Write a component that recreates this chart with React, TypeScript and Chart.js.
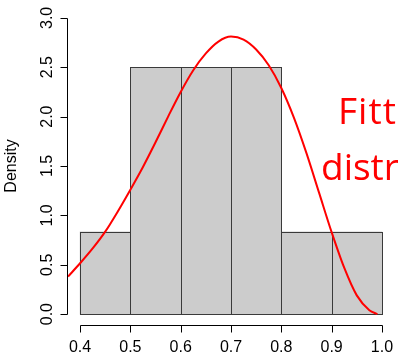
import React, { useEffect, useRef } from "react";
import { Chart, registerables } from "chart.js";

Chart.register(...registerables);

// Histogram bins (left edges / right edges) and densities
const binStarts = [0.4, 0.5, 0.6, 0.7, 0.8, 0.9];
const binEnds = [0.5, 0.6, 0.7, 0.8, 0.9, 1.0];
const densities = [0.833, 2.5, 2.5, 2.5, 0.833, 0.833];

// Fitted density curve
const curveX = [0.376, 0.4, 0.425, 0.45, 0.475, 0.5, 0.525, 0.55, 0.575, 0.6, 0.625, 0.65, 0.675, 0.7, 0.725, 0.75, 0.775, 0.8, 0.825, 0.85, 0.875, 0.9, 0.925, 0.95, 0.975, 0.991];
const curveY = [0.38, 0.515, 0.665, 0.835, 1.04, 1.26, 1.49, 1.74, 2.0, 2.25, 2.47, 2.64, 2.76, 2.81, 2.78, 2.68, 2.52, 2.29, 1.99, 1.63, 1.23, 0.83, 0.47, 0.19, 0.04, 0.0];

// Axis ticks
const xTicks = [0.4, 0.5, 0.6, 0.7, 0.8, 0.9, 1.0];
const xTickLabels = ["0.4", "0.5", "0.6", "0.7", "0.8", "0.9", "1.0"];
const yTicks = [0, 0.5, 1.0, 1.5, 2.0, 2.5, 3.0];
const yTickLabels = ["0.0", "0.5", "1.0", "1.5", "2.0", "2.5", "3.0"];
const yTitle = "Density";
const annotationLines = ["Fitted", "distribution"];

export default function App() {
  const ref = useRef<HTMLCanvasElement | null>(null);

  useEffect(() => {
    const canvas = ref.current;
    if (!canvas) return;

    const BAR_INDEX = 1;

    const outlinePlugin = {
      id: "barOutline",
      afterDatasetDraw(chart: any, args: any) {
        if (args.index !== BAR_INDEX) return;
        const ctx = chart.ctx as CanvasRenderingContext2D;
        const meta = chart.getDatasetMeta(BAR_INDEX);
        ctx.save();
        ctx.strokeStyle = "#3a3a3a";
        ctx.lineWidth = 1;
        meta.data.forEach((el: any) => {
          const p = el.getProps(["x", "y", "base", "width"], true);
          const l = Math.round(p.x - p.width / 2) + 0.5;
          const r = Math.round(p.x + p.width / 2) + 0.5;
          const t = Math.round(p.y) + 0.5;
          const b = Math.round(p.base) + 0.5;
          ctx.strokeRect(l, t, r - l, b - t);
        });
        ctx.restore();
      },
    };

    const rAxisPlugin = {
      id: "rAxis",
      afterDraw(chart: any) {
        const ctx = chart.ctx as CanvasRenderingContext2D;
        const xs = chart.scales.x;
        const ys = chart.scales.y;
        const area = chart.chartArea;
        ctx.save();
        ctx.strokeStyle = "#000";
        ctx.fillStyle = "#000";
        ctx.lineWidth = 1;
        // y axis
        const ax = Math.round(area.left) - 0.5;
        ctx.beginPath();
        ctx.moveTo(ax, Math.round(ys.getPixelForValue(yTicks[0])) + 0.5);
        ctx.lineTo(ax, Math.round(ys.getPixelForValue(yTicks[yTicks.length - 1])) + 0.5);
        yTicks.forEach((t) => {
          const py = Math.round(ys.getPixelForValue(t)) + 0.5;
          ctx.moveTo(ax, py);
          ctx.lineTo(ax - 7, py);
        });
        ctx.stroke();
        // x axis
        const ay = Math.round(area.bottom) - 0.5;
        ctx.beginPath();
        ctx.moveTo(Math.round(xs.getPixelForValue(xTicks[0])) + 0.5, ay);
        ctx.lineTo(Math.round(xs.getPixelForValue(xTicks[xTicks.length - 1])) + 0.5, ay);
        xTicks.forEach((t) => {
          const px = Math.round(xs.getPixelForValue(t)) + 0.5;
          ctx.moveTo(px, ay);
          ctx.lineTo(px, ay + 7);
        });
        ctx.stroke();

        ctx.font = '16px "Liberation Sans", Arial, sans-serif';
        ctx.textAlign = "center";
        ctx.textBaseline = "alphabetic";
        xTicks.forEach((t, i) => {
          ctx.fillText(xTickLabels[i], xs.getPixelForValue(t), ay + 26);
        });
        yTicks.forEach((t, i) => {
          ctx.save();
          ctx.translate(ax - 15.5, ys.getPixelForValue(t));
          ctx.rotate(-Math.PI / 2);
          ctx.fillText(yTickLabels[i], 0, 0);
          ctx.restore();
        });
        // axis title
        ctx.save();
        ctx.translate(15.5, ys.getPixelForValue(1.5));
        ctx.rotate(-Math.PI / 2);
        ctx.fillText(yTitle, 0, 0);
        ctx.restore();

        // red annotation text
        ctx.fillStyle = "#ff0000";
        ctx.textAlign = "left";
        ctx.font = '37px "Open Sans", Lato, sans-serif';
        (ctx as any).letterSpacing = "1px";
        ctx.fillText(annotationLines[0], 338, 124);
        (ctx as any).letterSpacing = "0px";
        ctx.fillText(annotationLines[1], 321, 180);
        ctx.restore();
      },
    };

    const chart = new Chart(canvas, {
      type: "bar",
      data: {
        datasets: [
          {
            type: "line",
            data: curveX.map((x, i) => ({ x, y: curveY[i] })),
            borderColor: "#ff0000",
            borderWidth: 2,
            pointRadius: 0,
            cubicInterpolationMode: "monotone",
            fill: false,
            order: 0,
          } as any,
          {
            type: "bar",
            data: binStarts.map((s, i) => ({ x: (s + binEnds[i]) / 2, y: densities[i] })),
            backgroundColor: "#cccccc",
            borderWidth: 0,
            borderSkipped: false,
            barPercentage: 1,
            categoryPercentage: 1,
            grouped: false,
            order: 1,
          } as any,
        ],
      },
      options: {
        responsive: false,
        animation: false,
        devicePixelRatio: 1,
        layout: { padding: { left: 68, right: 4, top: 6, bottom: 32 } },
        plugins: {
          legend: { display: false },
          tooltip: { enabled: false },
          title: { display: false },
        },
        scales: {
          x: {
            type: "linear",
            display: false,
            min: 0.376,
            max: 1.024,
            offset: false,
            grid: { display: false, offset: false },
          },
          y: {
            type: "linear",
            display: false,
            min: -0.12,
            max: 3.12,
            grid: { display: false },
          },
        },
      },
      plugins: [outlinePlugin, rAxisPlugin],
    });

    return () => chart.destroy();
  }, []);

  return (
    <div style={{ position: "fixed", left: 0, top: 0, width: 398, height: 358, background: "#fff" }}>
      <canvas ref={ref} width={398} height={358} style={{ display: "block" }} />
    </div>
  );
}
